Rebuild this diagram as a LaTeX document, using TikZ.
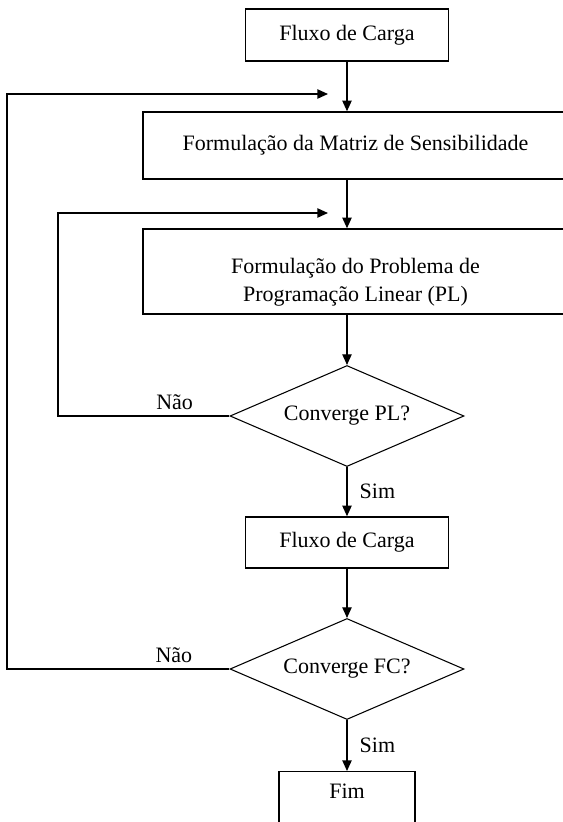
\documentclass[tikz,border=0pt]{standalone}
\usepackage{fontspec}
\setmainfont{Liberation Serif}
\usetikzlibrary{shapes.geometric,arrows.meta}

\begin{document}
\begin{tikzpicture}[x = 0.75pt, y = -0.75pt, >={Triangle[length = 8pt, width = 7pt]},
    font = \fontsize{16.5}{21}\selectfont,
    block/.style = {draw, rectangle, line width = 1.1pt, inner sep = 0pt},
    decision/.style = {draw, diamond, aspect = 2.3, line width = 0.8pt, inner sep = 0pt, minimum width = 175.5pt, minimum height = 75.75pt},
    flow/.style = {->, line width = 1pt},
    answer/.style = {inner sep = 4pt}]
      \useasboundingbox (0, 0) rectangle (563, 822);
      \clip (0, 0) rectangle (563, 822);

      \node (load_a) [block, minimum width = 152.25pt, minimum height = 39pt] at (347, 35) {Fluxo de Carga};
      \node (matrix) [block, minimum width = 318.75pt, minimum height = 50.25pt] at (355.5, 145.5) {Formulação da Matriz de Sensibilidade};
      \node (lp) [block, minimum width = 318.75pt, minimum height = 63.75pt, align = center] at (355.5, 271.5) {\rule{0pt}{28pt}Formulação do Problema de\\Programação Linear (PL)};
      \node (conv_lp) [decision] at (347, 416) {Converge PL?};
      \node (load_b) [block, minimum width = 152.25pt, minimum height = 38.25pt] at (347, 542.5) {Fluxo de Carga};
      \node (conv_lf) [decision] at (347, 669) {Converge FC?};
      \node (fim) [block, minimum width = 102pt, anchor = north, inner ysep = 9pt, text depth = 40pt] at (347, 771) {Fim};

      \coordinate (corner_lp) at (58, 213);
      \coordinate (back_lp) at (328, 213);
      \coordinate (corner_lf) at (7, 94);
      \coordinate (back_lf) at (328, 94);

      \draw [flow] (load_a.south) -- (load_a.south |- matrix.north);
      \draw [flow] (conv_lp.north |- matrix.south) -- (conv_lp.north |- lp.north);
      \draw [flow] (conv_lp.north |- lp.south) -- (conv_lp.north);
      \draw [flow] (conv_lp.south) -- (load_b.north) node [answer, pos = 0.5, right = 5pt] {Sim};
      \draw [flow] (load_b.south) -- (conv_lf.north);
      \draw [flow] (conv_lf.south) -- (fim.north) node [answer, pos = 0.5, right = 5pt] {Sim};
      \draw [flow] (conv_lp.west) -- (conv_lp.west -| corner_lp) node [answer, pos = 0.32, above] {Não} -- (corner_lp) -- (back_lp);
      \draw [flow] (conv_lf.west) -- (conv_lf.west -| corner_lf) node [answer, pos = 0.25, above] {Não} -- (corner_lf) -- (back_lf);
    \end{tikzpicture}
\end{document}
